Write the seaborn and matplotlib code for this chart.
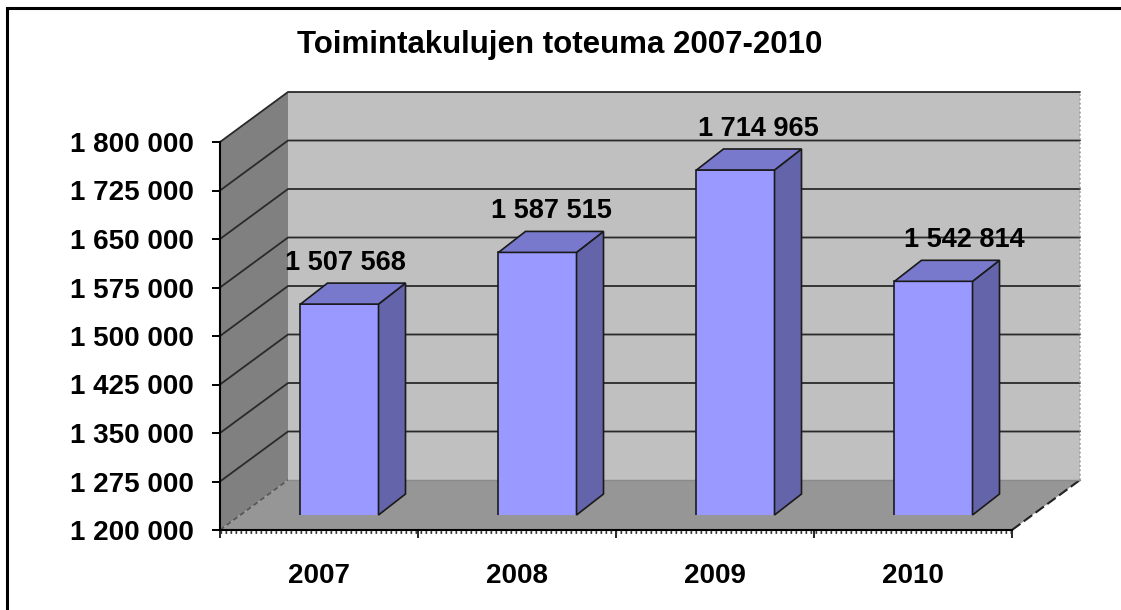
import numpy as np
import pandas as pd
import matplotlib.pyplot as plt
import seaborn as sns
from matplotlib.patches import Polygon, Rectangle

# data
vuodet = ['2007', '2008', '2009', '2010']
kulut = [1507568, 1587515, 1714965, 1542814]
y_ticks = list(range(1200000, 1800001, 75000))


def fmt(v):
    return f'{v:,}'.replace(',', ' ')


sns.set_style('white')
plt.rcParams['font.family'] = ['Liberation Sans', 'DejaVu Sans']
plt.rcParams['font.weight'] = 'bold'
plt.rcParams['text.color'] = 'black'
plt.rcParams['xtick.color'] = 'black'
plt.rcParams['ytick.color'] = 'black'

W, H = 1121, 610
fig = plt.figure(figsize=(W / 100, H / 100), dpi=100)


def px_axes(left, top, right, bottom):
    return fig.add_axes([left / W, 1 - bottom / H, (right - left) / W, (bottom - top) / H])


# etutaso (front plane) with the axes
ax = px_axes(220, 142, 1012, 530)
ax.set_xlim(-0.5, 3.5)
ax.set_ylim(1200000, 1800000)
ax.patch.set_alpha(0)

# depth vector of the 3d box, in data units of the front plane
DX = 68 / 198
DY = 50 * 600000 / 388
x0, x1 = -0.5, 3.5
y0, y1 = 1200000, 1800000

seinat = [
    ([(x0, y0), (x0 + DX, y0 + DY), (x0 + DX, y1 + DY), (x0, y1)], '#808080'),
    ([(x0 + DX, y0 + DY), (x1 + DX, y0 + DY), (x1 + DX, y1 + DY), (x0 + DX, y1 + DY)], '#c0c0c0'),
    ([(x0, y0), (x1, y0), (x1 + DX, y0 + DY), (x0 + DX, y0 + DY)], '#969696'),
]
for pts, c in seinat:
    ax.add_patch(Polygon(pts, closed=True, fc=c, ec='none', clip_on=False, zorder=0))

for v in y_ticks[1:]:
    ax.plot([x0, x0 + DX, x1 + DX], [v, v + DY, v + DY], color='#2a2a2a', lw=1.3,
            clip_on=False, zorder=1)
ax.plot([x0, x0 + DX], [y0, y0 + DY], color='#555555', lw=1.2, ls=(0, (3, 2)), clip_on=False, zorder=1)
ax.plot([x1, x1 + DX], [y0, y0 + DY], color='#222222', lw=1.5, ls=(0, (5, 2)), clip_on=False, zorder=1)
ax.plot([x1 + DX, x1 + DX], [y0 + DY, y1 + DY], color='#999999', lw=1.2, ls=':', clip_on=False, zorder=1)
ax.plot([x0 + DX, x1 + DX], [y0 + DY, y0 + DY], color='#8a8a8a', lw=1, clip_on=False, zorder=1)

sns.despine(ax=ax)
ax.spines['left'].set_linewidth(1.5)
ax.spines['bottom'].set_linewidth(1.5)
ax.spines['left'].set_color('black')
ax.spines['bottom'].set_color('black')
ax.set_yticks(y_ticks)
ax.set_yticklabels([fmt(v) for v in y_ticks], fontsize=20, fontweight='bold', color='black')
ax.tick_params(axis='y', length=6, width=1.4, pad=13, color='black', left=True)
ax.set_xticks(range(len(vuodet)))
ax.set_xticklabels(vuodet, fontsize=20, fontweight='bold', color='black')
ax.set_xticks([-0.5, 0.5, 1.5, 2.5, 3.5], minor=True)
ax.tick_params(axis='x', which='major', length=0, pad=24)
ax.tick_params(axis='x', which='minor', length=6, width=1.2, color='black', bottom=True)
# pieni pisteviiva alareunassa
ax.plot([x0, x1], [y0 - 3500, y0 - 3500], color='#333333', lw=2, ls=(0, (0.6, 1.2)),
        clip_on=False, zorder=3)

# pylvaat omalle tasolleen (bar plane)
bax = px_axes(240.5, 127, 1032.5, 515)
L = 1200000 - 12 * 600000 / 388
df = pd.DataFrame({'vuosi': vuodet, 'kulut': kulut})
sns.barplot(data=df, x='vuosi', y='kulut', ax=bax, color='#9999ff', saturation=1,
            width=0.394, errorbar=None, edgecolor='#1a1a1a', linewidth=1.2)
bax.set_xlim(-0.5, 3.5)
bax.set_ylim(L, L + 600000)
bax.axis('off')

bdx = 27 / 198
bdy = 21 * 600000 / 388
for i, p in enumerate(bax.patches):
    x = p.get_x()
    w = p.get_width()
    v = p.get_height()
    sivu = [(x + w, L), (x + w + bdx, L + bdy), (x + w + bdx, v + bdy), (x + w, v)]
    katto = [(x, v), (x + w, v), (x + w + bdx, v + bdy), (x + bdx, v + bdy)]
    bax.add_patch(Polygon(sivu, closed=True, fc='#6464aa', ec='#1a1a1a', lw=1.2,
                          clip_on=False, zorder=2))
    bax.add_patch(Polygon(katto, closed=True, fc='#7878cc', ec='#1a1a1a', lw=1.2,
                          clip_on=False, zorder=2))
    bax.text(x + w / 2 + 0.093 + 0.041 * (i - 1.5), v + bdy + 31000, fmt(int(v)),
             ha='center', va='center', fontsize=19.5, fontweight='bold', color='black', zorder=5)

fig.text(560 / W, 1 - 45 / H, 'Toimintakulujen toteuma 2007-2010', ha='center', va='center',
         fontsize=22.5, fontweight='bold', color='black')

fig.add_artist(Rectangle((7 / W, -0.05), 1.2, (H - 8) / H + 0.05, transform=fig.transFigure,
                         fill=False, lw=2.2, ec='black'))

fig.savefig('out.png', dpi=100)
